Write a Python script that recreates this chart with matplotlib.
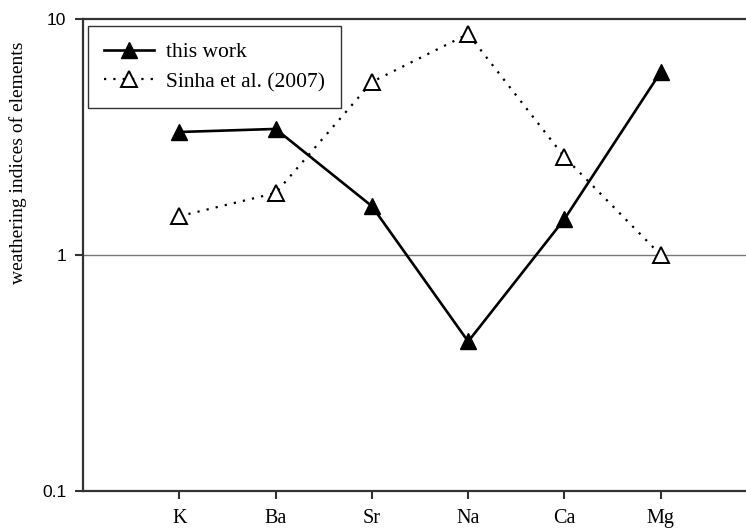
import numpy as np
import matplotlib
matplotlib.use("Agg")
import matplotlib.pyplot as plt

elementos = ["K", "Ba", "Sr", "Na", "Ca", "Mg"]
este_trabajo = [3.32, 3.42, 1.61, 0.43, 1.42, 5.96]
sinha_2007 = [1.46, 1.83, 5.41, 8.64, 2.60, 1.00]

serif = ["Liberation Serif", "DejaVu Serif"]
sans = ["Liberation Sans", "DejaVu Sans"]

fig = plt.figure(figsize=(7.46, 5.30), dpi=100)
ax = fig.add_axes([0.1113, 0.0736, 0.9035, 0.8906])

x = np.arange(1, len(elementos) + 1)

ax.axhline(1, color="#777777", lw=1.0, zorder=1)

ax.plot(x, este_trabajo, color="black", lw=1.9, marker="^", ms=12,
        mfc="black", mec="black", label="this work", zorder=3)
ax.plot(x, sinha_2007, color="black", lw=1.6, ls=(0, (1, 3.2)),
        marker="^", ms=12, mfc="white", mec="black", mew=1.4,
        label="Sinha et al. (2007)", zorder=3)

ax.set_yscale("log")
ax.set_ylim(0.1, 10)
ax.set_xlim(0, 7)
ax.set_yticks([0.1, 1, 10])
ax.set_yticklabels(["0.1", "1", "10"], family=sans, fontsize=12.5)
ax.yaxis.set_minor_locator(matplotlib.ticker.NullLocator())
ax.set_xticks(x)
ax.set_xticklabels(elementos, family=serif, fontsize=14.5)
ax.tick_params(axis="both", direction="out", length=6, width=1.5,
               color="#333333")
ax.tick_params(axis="x", pad=7)
ax.tick_params(axis="y", pad=6)

for s in ax.spines.values():
    s.set_linewidth(1.6)
    s.set_color("#333333")

fig.text(18 / 746, (530 - 163) / 530, "weathering indices of elements",
         rotation=90, ha="center", va="center", family=serif, fontsize=14)

leg = ax.legend(loc="upper left", bbox_to_anchor=(0.0074, 0.985),
                prop={"family": serif, "size": 15.5}, frameon=True,
                fancybox=False, edgecolor="black", handlelength=2.3,
                handletextpad=0.55, borderpad=0.75, labelspacing=0.45,
                borderaxespad=0.0)
leg.get_frame().set_linewidth(1.0)

fig.savefig("out.png", dpi=100)
